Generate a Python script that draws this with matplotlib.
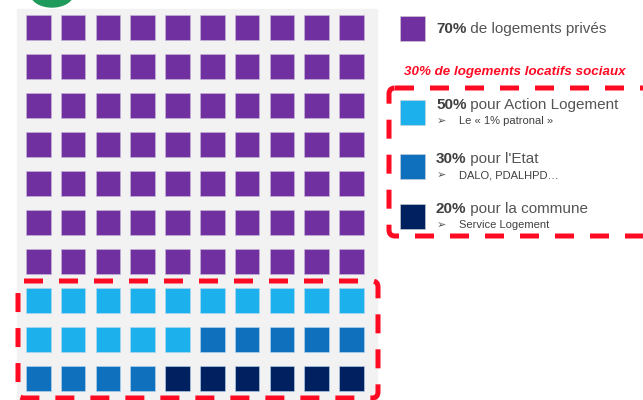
import matplotlib
matplotlib.use("Agg")
import matplotlib.pyplot as plt
from matplotlib.patches import Rectangle, FancyBboxPatch, Ellipse

# ---- data ----
categories = ["logements privés", "Action Logement", "l'Etat", "la commune"]
counts = [70, 15, 9, 6]          # squares out of 100
colors = ["#7030A0", "#1CB0EC", "#0F70BE", "#002060"]
legend_main = ["de logements privés", "pour Action Logement", "pour l'Etat", "pour la commune"]
legend_pct = ["70%", "50%", "30%", "20%"]
legend_sub = [None, "Le « 1% patronal »", "DALO, PDALHPD…", "Service Logement"]
social_title = "30% de logements locatifs sociaux"

plt.rcParams['font.family'] = ['Liberation Sans', 'DejaVu Sans']

W, H = 643, 400
fig = plt.figure(figsize=(W / 100, H / 100), dpi=100)
ax = fig.add_axes([0, 0, 1, 1])
ax.set_xlim(0, W)
ax.set_ylim(H, 0)
ax.axis("off")

# logo fragment
ax.add_patch(Ellipse((52, -6), 42, 26, color="#1E9A5A", zorder=1))

# gray panel
ax.add_patch(Rectangle((17, 9), 360, 400, color="#F2F2F2", zorder=0))

# waffle
x0, dx, y0, dy, sw, sh = 26, 34.8, 15, 39, 24.5, 25
idx = 0
for cat, n, c in zip(categories, counts, colors):
    for k in range(n):
        r, col = divmod(idx, 10)
        ax.add_patch(Rectangle((x0 + col * dx, y0 + r * dy), sw, sh,
                               facecolor=c, edgecolor="#C9B8DA" if c == colors[0] else "#B8D8F0",
                               linewidth=0.4, zorder=2))
        idx += 1

red = "#FF0A23"
dash = (0, (3.8, 3.2))
# dashed box around social rows
ax.add_patch(FancyBboxPatch((18, 281), 360, 117, boxstyle="round,pad=0,rounding_size=6",
                            fill=False, edgecolor=red, linewidth=3.6, linestyle=dash, zorder=3))
# dashed box around legend
ax.add_patch(FancyBboxPatch((389, 88), 270, 148, boxstyle="round,pad=0,rounding_size=6",
                            fill=False, edgecolor=red, linewidth=3.6, linestyle=dash, zorder=3))

# legend
ly = [16, 100, 154, 204]
for i in range(4):
    ax.add_patch(Rectangle((400, ly[i]), 24.5, 25, facecolor=colors[i],
                           edgecolor="#D0D0D0", linewidth=0.4, zorder=2))
    ty = ly[i] + (13 if legend_sub[i] is None else 5)
    t = ax.text(436, ty, legend_pct[i], fontsize=11, fontweight="bold", color="#404040",
                va="center", ha="left")
    ax.annotate(" " + legend_main[i], xycoords=t, xy=(1, 0.5), va="center", ha="left",
                fontsize=11, color="#555555")
    if legend_sub[i]:
        ax.text(437, ty + 16, "➢", fontsize=8, color="#505050", va="center", ha="left",
                family=['DejaVu Sans'])
        ax.text(459, ty + 16, legend_sub[i], fontsize=8, color="#404040", va="center", ha="left")

ax.text(515, 72, social_title, fontsize=9.6, fontweight="bold", fontstyle="italic",
        color=red, ha="center", va="center")

fig.savefig("out.png", dpi=100)
